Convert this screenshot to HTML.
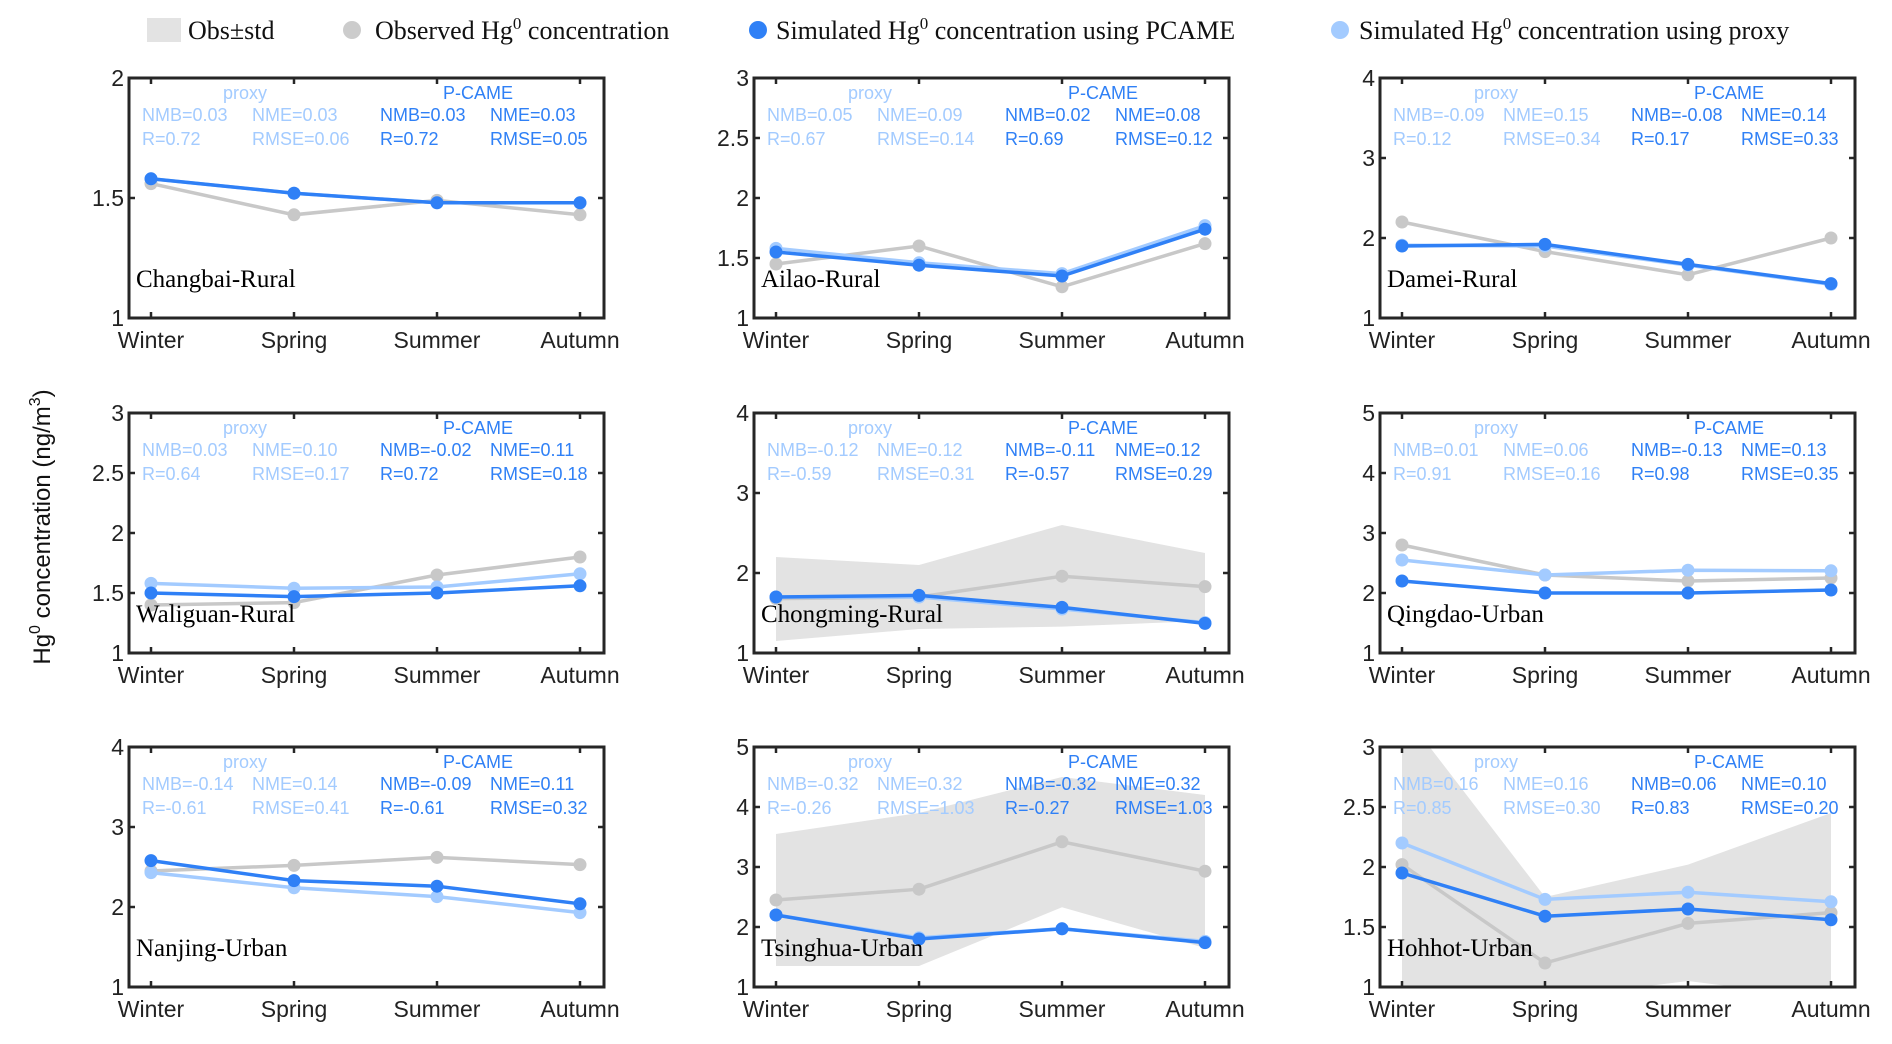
<!DOCTYPE html>
<html><head><meta charset="utf-8">
<style>
html,body{margin:0;padding:0;background:#fff;}
svg{display:block;}
.tk{font-family:"Liberation Sans",Arial,sans-serif;font-size:23px;fill:#222;}
.st{font-family:"Liberation Sans",Arial,sans-serif;font-size:18px;}
.lab{font-family:"Liberation Serif",serif;font-size:25px;fill:#000;}
.leg{font-family:"Liberation Serif",serif;font-size:26px;fill:#111;}
</style></head>
<body>
<svg id="chart" width="1892" height="1044" viewBox="0 0 1892 1044" xmlns="http://www.w3.org/2000/svg">
<g>
  <rect x="147" y="18" width="34" height="24" fill="#e3e3e3"/>
  <text class="leg" x="188" y="39">Obs±std</text>
  <circle cx="352" cy="30" r="9" fill="#cccccc"/>
  <text class="leg" x="375" y="39">Observed Hg<tspan dy="-10" font-size="17">0</tspan><tspan dy="10"> concentration</tspan></text>
  <circle cx="758" cy="30" r="9" fill="#2f80f6"/>
  <text class="leg" x="776" y="39">Simulated Hg<tspan dy="-10" font-size="17">0</tspan><tspan dy="10"> concentration using PCAME</tspan></text>
  <circle cx="1340" cy="30" r="9" fill="#a3cbff"/>
  <text class="leg" x="1359" y="39">Simulated Hg<tspan dy="-10" font-size="17">0</tspan><tspan dy="10"> concentration using proxy</tspan></text>
</g>
<text transform="translate(50,527) rotate(-90)" text-anchor="middle" style="font-family:'Liberation Sans',Arial,sans-serif;font-size:24px;fill:#111">Hg<tspan dy="-10" font-size="16">0</tspan><tspan dy="10"> concentration (ng/m</tspan><tspan dy="-10" font-size="16">3</tspan><tspan dy="10">)</tspan></text>
<g id="panels"></g>
</svg>
<script>
const seasons = ["Winter","Spring","Summer","Autumn"];
const stations = ["Changbai-Rural","Ailao-Rural","Damei-Rural","Waliguan-Rural","Chongming-Rural","Qingdao-Urban","Nanjing-Urban","Tsinghua-Urban","Hohhot-Urban"];
const yMax = [2,3,4,3,4,5,4,5,3];
const yTicks = [[1,1.5,2],[1,1.5,2,2.5,3],[1,2,3,4],[1,1.5,2,2.5,3],[1,2,3,4],[1,2,3,4,5],[1,2,3,4],[1,2,3,4,5],[1,1.5,2,2.5,3]];
const obs = [[1.56,1.43,1.49,1.43],[1.45,1.6,1.26,1.62],[2.2,1.83,1.54,2.0],[1.4,1.42,1.65,1.8],[1.68,1.7,1.96,1.83],[2.8,2.3,2.2,2.25],[2.45,2.52,2.62,2.53],[2.45,2.63,3.42,2.93],[2.02,1.2,1.53,1.62]];
const pcame = [[1.58,1.52,1.48,1.48],[1.55,1.44,1.35,1.74],[1.9,1.92,1.67,1.43],[1.5,1.47,1.5,1.56],[1.7,1.72,1.57,1.37],[2.2,2.0,2.0,2.05],[2.58,2.33,2.26,2.04],[2.2,1.8,1.97,1.74],[1.95,1.59,1.65,1.56]];
const proxy = [[1.58,1.52,1.48,1.48],[1.58,1.46,1.37,1.77],[1.91,1.9,1.66,1.42],[1.58,1.54,1.55,1.66],[1.7,1.7,1.55,1.38],[2.55,2.3,2.38,2.37],[2.43,2.24,2.13,1.93],[2.2,1.82,1.97,1.76],[2.2,1.73,1.79,1.71]];
const bandUpper = [null,null,null,null,[2.2,2.1,2.6,2.25],null,null,[3.55,3.9,4.5,4.2],[3.3,1.75,2.02,2.45]];
const bandLower = [null,null,null,null,[1.15,1.3,1.33,1.4],null,null,[1.35,1.35,2.33,1.65],[1.0,0.9,1.05,0.9]];
const statsProxy = [["NMB=0.03","NME=0.03","R=0.72","RMSE=0.06"],["NMB=0.05","NME=0.09","R=0.67","RMSE=0.14"],["NMB=-0.09","NME=0.15","R=0.12","RMSE=0.34"],["NMB=0.03","NME=0.10","R=0.64","RMSE=0.17"],["NMB=-0.12","NME=0.12","R=-0.59","RMSE=0.31"],["NMB=0.01","NME=0.06","R=0.91","RMSE=0.16"],["NMB=-0.14","NME=0.14","R=-0.61","RMSE=0.41"],["NMB=-0.32","NME=0.32","R=-0.26","RMSE=1.03"],["NMB=0.16","NME=0.16","R=0.85","RMSE=0.30"]];
const statsPcame = [["NMB=0.03","NME=0.03","R=0.72","RMSE=0.05"],["NMB=0.02","NME=0.08","R=0.69","RMSE=0.12"],["NMB=-0.08","NME=0.14","R=0.17","RMSE=0.33"],["NMB=-0.02","NME=0.11","R=0.72","RMSE=0.18"],["NMB=-0.11","NME=0.12","R=-0.57","RMSE=0.29"],["NMB=-0.13","NME=0.13","R=0.98","RMSE=0.35"],["NMB=-0.09","NME=0.11","R=-0.61","RMSE=0.32"],["NMB=-0.32","NME=0.32","R=-0.27","RMSE=1.03"],["NMB=0.06","NME=0.10","R=0.83","RMSE=0.20"]];

const NS="http://www.w3.org/2000/svg";
const colX=[129,754,1380], rowY=[78,413,747], W=475, H=240;
const root=document.getElementById('panels');
function mk(tag,attrs,parent){const e=document.createElementNS(NS,tag);for(const k in attrs)e.setAttribute(k,attrs[k]);parent.appendChild(e);return e;}
function txt(parent,x,y,s,cls,fill,anchor){const t=mk('text',{x:x,y:y,class:cls},parent);if(fill)t.setAttribute('fill',fill);if(anchor)t.setAttribute('text-anchor',anchor);t.textContent=s;return t;}

stations.forEach((name,i)=>{
  const L=colX[i%3], T=rowY[Math.floor(i/3)], B=T+H, R=L+W;
  const g=mk('g',{},root);
  
  
  const xs=k=>L+22+k*143;
  const ys=v=>B-(v-1)/(yMax[i]-1)*H;
  const cid='clip'+i;
  const cp=mk('clipPath',{id:cid},g); mk('rect',{x:L,y:T,width:W,height:H},cp);
  const plot=mk('g',{'clip-path':'url(#'+cid+')'},g);
  if(bandUpper[i]){
    let pts=bandUpper[i].map((v,k)=>xs(k)+','+ys(v));
    pts=pts.concat(bandLower[i].map((v,k)=>xs(k)+','+ys(v)).reverse());
    const b=mk('polygon',{points:pts.join(' '),fill:'#e3e3e3'},plot);
    
    
  }
  const series=[[obs[i],'#c8c8c8','observed'],[proxy[i],'#a3cbff','proxy'],[pcame[i],'#2f80f6','pcame']];
  series.forEach(([d,c,n])=>{
    const pl=mk('polyline',{points:d.map((v,k)=>xs(k)+','+ys(v)).join(' '),fill:'none',stroke:c,'stroke-width':3.5},plot);
    
    
    d.forEach((v,k)=>{
      const p=mk('circle',{cx:xs(k),cy:ys(v),r:6.5,fill:c},plot);
      
      
    });
  });
  const sl=txt(g,L+7,B-31,name,'lab');
  
  
  const lc='#a3cbff', dc='#2f80f6';
  const s1=txt(g,L+116,T+21,'proxy','st',lc,'middle');
  
  
  const s2=txt(g,L+349,T+21,'P-CAME','st',dc,'middle');
  
  
  const offs=[[13,0],[123,0],[13,1],[123,1]];
  statsProxy[i].forEach((s,k)=>{const t=txt(g,L+offs[k][0],T+43+offs[k][1]*24,s,'st',lc);
    
    });
  statsPcame[i].forEach((s,k)=>{const t=txt(g,L+offs[k][0]+238,T+43+offs[k][1]*24,s,'st',dc);
    
    });
  const bx=mk('rect',{x:L,y:T,width:W,height:H,fill:'none',stroke:'#262626','stroke-width':3},g);
  
  
  seasons.forEach((s,k)=>{
    mk('line',{x1:xs(k),x2:xs(k),y1:B,y2:B-6,stroke:'#262626','stroke-width':2.5},g);
    mk('line',{x1:xs(k),x2:xs(k),y1:T,y2:T+6,stroke:'#262626','stroke-width':2.5},g);
    const t=txt(g,xs(k),B+30,s,'tk',null,'middle');
    
    
  });
  yTicks[i].forEach(v=>{
    mk('line',{x1:L,x2:L+6,y1:ys(v),y2:ys(v),stroke:'#262626','stroke-width':2.5},g);
    mk('line',{x1:R,x2:R-6,y1:ys(v),y2:ys(v),stroke:'#262626','stroke-width':2.5},g);
    const t=txt(g,L-5,ys(v)+8,String(v),'tk',null,'end');
    
    
  });
});
</script>
</body></html>
